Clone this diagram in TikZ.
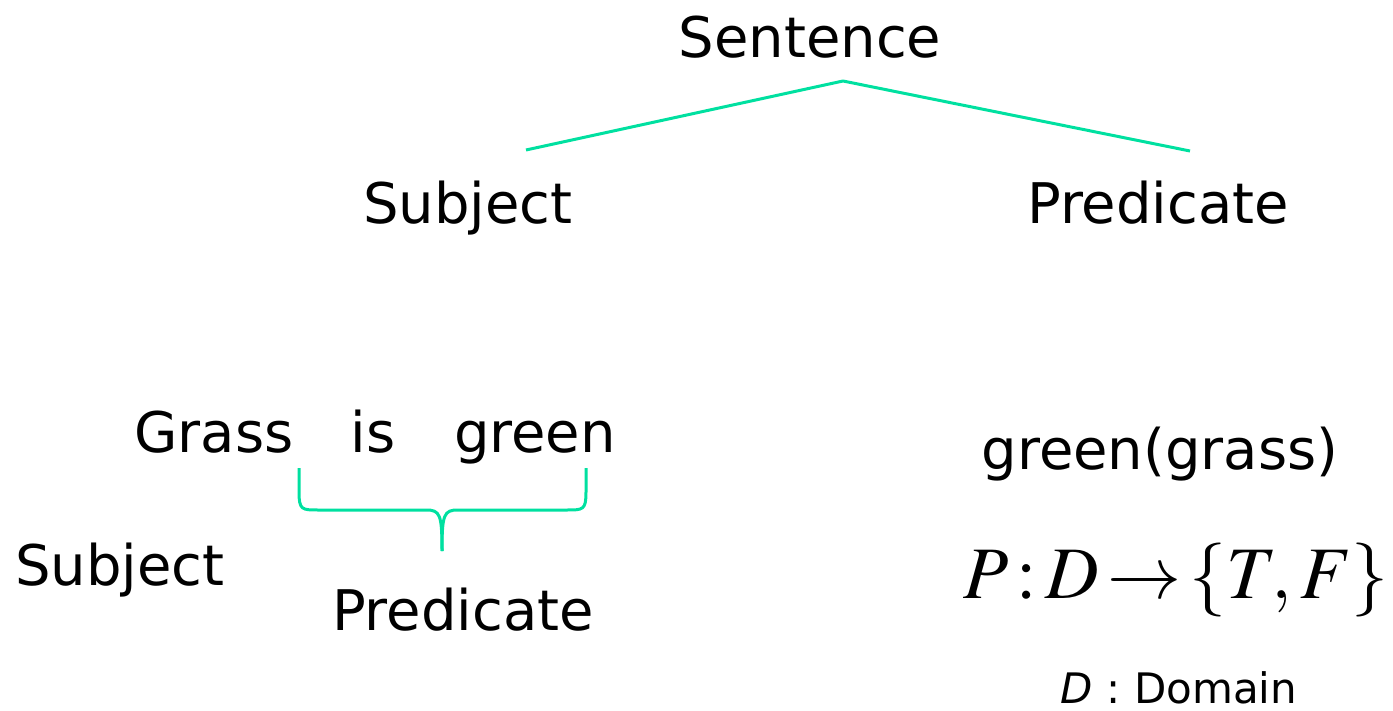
\documentclass[tikz,border=0pt]{standalone}
\usepackage{mathptmx}
\usepackage{fontspec}
\setmainfont{DejaVu Sans}
\definecolor{tealgreen}{RGB}{0,224,160}
\tikzset{
  lbl/.style={anchor=base, inner sep=0pt, font=\fontsize{56}{60}\selectfont},
  small/.style={anchor=base, inner sep=0pt, font=\fontsize{42}{46}\selectfont},
  conn/.style={draw=tealgreen, line width=3pt, line join=round}
}
\begin{document}
\begin{tikzpicture}[x=1pt,y=-1pt]
\useasboundingbox (0,0) rectangle (1393,711);
\node[lbl] (sent) at (810,58) {Sentence};
\node[lbl] (subj) at (468,224) {Subject};
\node[lbl] (pred) at (1158,224) {Predicate};
\coordinate (apex) at (843,81);
\coordinate (subjtop) at (526,150);
\coordinate (predtop) at (1190,151);
\draw[conn] (subjtop) -- (apex) -- (predtop);

\node[lbl] (grass) at (214,452) {Grass};
\node[lbl] (is) at (373,452) {is};
\node[lbl] (green) at (535,452) {green};
\node[lbl] (subj2) at (120,585) {Subject};
\node[lbl] (pred2) at (463,630) {Predicate};
\coordinate (bl) at (299,468);
\coordinate (br) at (586,468);
\coordinate (bm) at (442,551);
\draw[conn] (bl) -- (299,492) .. controls (299,510) and (302,510) .. (318,510)
  -- (426,510) .. controls (440,510) and (442,514) .. (bm);
\draw[conn] (br) -- (586,492) .. controls (586,510) and (583,510) .. (567,510)
  -- (458,510) .. controls (444,510) and (442,514) .. (bm);

\node[lbl] (gg) at (1160,469) {green(grass)};
\node[anchor=base, inner sep=0pt, font=\fontsize{74}{80}\selectfont] (form) at (1176,598) {$P\!:\!D\!\rightarrow\!\{T,F\}$};
\node[small] (dom) at (1179,703) {\textit{D} : Domain};
\end{tikzpicture}
\end{document}
